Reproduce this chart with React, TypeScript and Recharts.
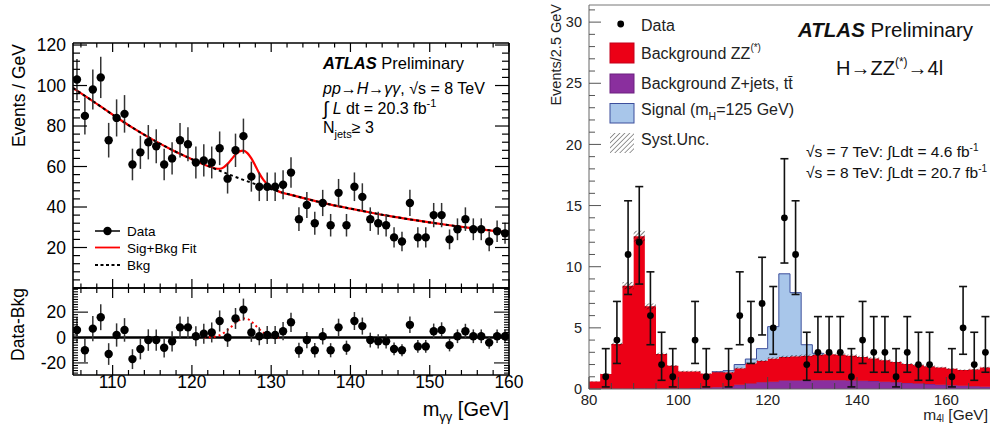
import React from "react";
import { ComposedChart, Line, Scatter, XAxis, YAxis, ErrorBar, ReferenceLine, Area } from "recharts";

const FONT = '"Liberation Sans", Arial, Helvetica, sans-serif';

// ===================== LEFT: H -> gamma gamma, Njets >= 3 =====================
const GG_RANGE = [105, 160];
const GG_BIN_WIDTH = 1;
// events per 1 GeV bin, bins 105-106 ... 159-160
const GG_DATA = [103, 85, 98, 104, 73, 84, 86, 61, 67, 72, 70, 61, 64, 73, 71, 62, 63, 62, 69, 54, 68, 75, 55, 50, 50, 50, 51, 57, 34, 41, 32, 42, 31, 47, 31, 50, 45, 34, 32, 31, 25, 23, 42, 25, 25, 36, 36, 24, 29, 34, 29, 29, 23, 28, 27];
// data - bkg (lower panel)
const GG_RESIDUAL = [6, -10, 7, 16, -13, 2, 6, -17, -9, -2, -2, -8, -3, 8, 8, 1, 3, 4, 13, 0, 15, 22, 4, 1, 2, 2, 5, 12, -10, -2, -10, 1, -10, 8, -8, 13, 9, -2, -3, -3, -9, -10, 10, -7, -7, 5, 6, -6, 1, 5, 1, 1, -4, 1, 1];
// background-only fit (dashed)
const GG_BKG_X = [105, 107.5, 110, 112.5, 115, 117.5, 120, 122.5, 125, 127.5, 130, 132.5, 135, 137.5, 140, 142.5, 145, 147.5, 150, 152.5, 155, 157.5, 160];
const GG_BKG_Y = [98.8, 92.3, 85.6, 79.2, 73.4, 68.2, 63.6, 59.5, 55.6, 52, 48.8, 46, 43.5, 41.2, 39.2, 37.3, 35.5, 33.9, 32.4, 31, 29.7, 28.5, 27.4];
// signal + background fit (red)
const GG_SB_X = [105, 107.5, 110, 112.5, 115, 117.5, 120, 121.5, 122.5, 123, 123.5, 124, 124.5, 125, 125.5, 126, 126.5, 127, 127.5, 128, 128.5, 129, 129.5, 130, 131, 132.5, 135, 137.5, 140, 142.5, 145, 147.5, 150, 152.5, 155, 157.5, 160];
const GG_SB_Y = [98.8, 92.3, 85.6, 79.2, 73.4, 68.2, 63.6, 61, 59.6, 59, 58.9, 59.6, 61.3, 63.6, 65.9, 67.5, 67.8, 66.6, 64, 60.4, 56.6, 53.5, 51.3, 49.7, 47.6, 46, 43.5, 41.2, 39.2, 37.3, 35.5, 33.9, 32.4, 31, 29.7, 28.5, 27.4];
// signal component in the lower panel (red dotted)
const GG_SIG_X = [121.5, 122, 122.5, 123, 123.5, 124, 124.5, 125, 125.5, 126, 126.5, 127, 127.5, 128, 128.5, 129, 129.5, 130, 130.5, 131];
const GG_SIG_Y = [0, 0.1, 0.3, 0.8, 1.8, 3.6, 6, 8.6, 11.4, 13.8, 15, 14.6, 12.6, 9.6, 6.5, 4, 2.1, 0.9, 0.3, 0];

// ===================== RIGHT: H -> ZZ(*) -> 4l =====================
const ZZ_RANGE = [80, 170];
const ZZ_BIN_WIDTH = 2.5;
const ZZ_DATA = [0, 1, 4, 11, 12, 6, 2, 1, 0, 4, 1, 0, 1, 6, 4, 7, 5, 14, 11, 2, 3, 3, 3, 1, 4, 3, 3, 1, 3, 2, 2, 0, 1, 5, 2, 3];
const ZZ_ZJETS = [0.03, 0.03, 0.03, 0.03, 0.04, 0.04, 0.04, 0.05, 0.05, 0.08, 0.1, 0.15, 0.2, 0.35, 0.45, 0.55, 0.6, 0.7, 0.7, 0.72, 0.72, 0.72, 0.72, 0.7, 0.68, 0.65, 0.6, 0.55, 0.5, 0.45, 0.4, 0.35, 0.3, 0.27, 0.22, 0.18];
const ZZ_ZZ = [0.59, 1.2, 3.65, 8.42, 12.46, 6.72, 2.82, 1.85, 1.39, 1.36, 1.15, 1.26, 1.16, 1.35, 1.65, 1.75, 1.9, 1.92, 1.98, 2.0, 2.08, 2.13, 2.08, 2.02, 1.94, 1.85, 1.75, 1.65, 1.55, 1.5, 1.45, 1.4, 1.35, 1.28, 1.38, 1.57];
const ZZ_SIGNAL = [0, 0, 0, 0, 0, 0, 0, 0, 0, 0, 0, 0, 0.14, 0.3, 0.35, 1.0, 2.6, 6.8, 5.2, 0.9, 0.12, 0, 0, 0, 0, 0, 0, 0, 0, 0, 0, 0, 0, 0, 0, 0];
const SYST_REL = 0.035;
// Poisson 68% interval bounds for observed counts n
const POIS_LO: Record<number, number> = { 1: 0.17, 2: 0.71, 3: 1.37, 4: 2.09, 5: 2.84, 6: 3.62, 7: 4.42, 11: 7.73, 12: 8.58, 14: 10.3 };
const POIS_HI: Record<number, number> = { 1: 3.3, 2: 4.64, 3: 5.92, 4: 7.16, 5: 8.38, 6: 9.58, 7: 10.77, 11: 15.39, 12: 16.55, 14: 18.83 };

// ---------- helpers ----------
const range = (a: number, b: number, s: number) => {
  const r: number[] = [];
  for (let v = a; v <= b + 1e-9; v += s) r.push(Math.round(v * 1000) / 1000);
  return r;
};
const isMult = (v: number, m: number) => Math.abs(v / m - Math.round(v / m)) < 1e-6;

// ---------- derived datasets ----------
const ggPoints = GG_DATA.map((n, i) => ({ x: GG_RANGE[0] + GG_BIN_WIDTH * (i + 0.5), y: n, e: Math.sqrt(n) }));
const ggResPoints = GG_RESIDUAL.map((r, i) => ({ x: GG_RANGE[0] + GG_BIN_WIDTH * (i + 0.5), y: r, e: Math.sqrt(GG_DATA[i]) }));
const ggBkg = GG_BKG_X.map((x, i) => ({ x, y: GG_BKG_Y[i] }));
const ggSB = GG_SB_X.map((x, i) => ({ x, y: GG_SB_Y[i] }));
const ggSig = GG_SIG_X.map((x, i) => ({ x, y: GG_SIG_Y[i] }));

const NB = ZZ_DATA.length;
const zzEdges = Array.from({ length: NB + 1 }, (_, k) => ZZ_RANGE[0] + k * ZZ_BIN_WIDTH);
const zzStack = zzEdges.map((x, k) => {
  const j = Math.min(k, NB - 1);
  const b = ZZ_ZJETS[j] + ZZ_ZZ[j];
  return { x, zj: ZZ_ZJETS[j], zz: ZZ_ZZ[j], sig: ZZ_SIGNAL[j], band: [b * (1 - SYST_REL), b * (1 + SYST_REL)] };
});
const sigOutline = zzEdges
  .map((x, k) => {
    const j = Math.min(k, NB - 1);
    return { x, k, y: ZZ_ZJETS[j] + ZZ_ZZ[j] + ZZ_SIGNAL[j] };
  })
  .filter((d) => d.k >= 11 && d.k <= 21);
const zzPoints = ZZ_DATA.map((n, k) => ({ n, x: ZZ_RANGE[0] + ZZ_BIN_WIDTH * (k + 0.5) }))
  .filter((d) => d.n > 0)
  .map((d) => ({ x: d.x, y: d.n, err: [d.n - POIS_LO[d.n], POIS_HI[d.n] - d.n] }));

// ---------- layout ----------
const LT = { w: 520, h: 300, l: 73, r: 509, t: 43, b: 288 };
const LB = { top: 280, w: 530, h: 144, l: 73, r: 509, t: 8, b: 95 };
const RC = { left: 540, w: 460, h: 424, l: 49, r: 451, t: 5, b: 389 };

const LFS = 17.5;

const ltY = (p: any) => {
  const y = p.y, v = p.payload.value;
  const maj = isMult(v, 20);
  const L = maj ? 14 : 7;
  return (
    <g>
      <line x1={LT.l} x2={LT.l + L} y1={y} y2={y} stroke="#000" strokeWidth={1.2} />
      <line x1={LT.r} x2={LT.r - L} y1={y} y2={y} stroke="#000" strokeWidth={1.2} />
      {maj && v > 0 ? (
        <text x={LT.l - 7} y={y} dy="0.36em" textAnchor="end" fontSize={LFS} fontFamily={FONT} fill="#000">{v}</text>
      ) : null}
    </g>
  );
};
const ltX = (p: any) => {
  const x = p.x, v = p.payload.value;
  const L = isMult(v, 10) ? 9 : 4.5;
  return (
    <g>
      <line x1={x} x2={x} y1={LT.b} y2={LT.b - L} stroke="#000" strokeWidth={1.2} />
      <line x1={x} x2={x} y1={LT.t} y2={LT.t + L} stroke="#000" strokeWidth={1.2} />
    </g>
  );
};
const lbY = (p: any) => {
  const y = p.y, v = p.payload.value;
  const maj = isMult(v, 20);
  const L = maj ? 15 : 5;
  return (
    <g>
      <line x1={LB.l} x2={LB.l + L} y1={y} y2={y} stroke="#000" strokeWidth={1.1} />
      <line x1={LB.r} x2={LB.r - L} y1={y} y2={y} stroke="#000" strokeWidth={1.1} />
      {maj ? (
        <text x={LB.l - 7} y={y} dy="0.36em" textAnchor="end" fontSize={LFS} fontFamily={FONT} fill="#000">{v}</text>
      ) : null}
    </g>
  );
};
const lbX = (p: any) => {
  const x = p.x, v = p.payload.value;
  const maj = isMult(v, 10);
  const L = maj ? 10 : 5;
  return (
    <g>
      <line x1={x} x2={x} y1={LB.b} y2={LB.b - L} stroke="#000" strokeWidth={1.2} />
      <line x1={x} x2={x} y1={LB.t} y2={LB.t + L} stroke="#000" strokeWidth={1.2} />
      {maj ? (
        <text x={x} y={LB.b + 13} textAnchor="middle" fontSize={LFS} fontFamily={FONT} fill="#000">{v}</text>
      ) : null}
    </g>
  );
};
const rY = (p: any) => {
  const y = p.y, v = p.payload.value;
  const maj = isMult(v, 5);
  const L = maj ? 12 : 6;
  return (
    <g>
      <line x1={RC.l} x2={RC.l + L} y1={y} y2={y} stroke="#555" strokeWidth={1} />
      {maj ? (
        <text x={RC.l - 7} y={y} dy="0.36em" textAnchor="end" fontSize={14.5} fontFamily={FONT} fill="#222">{v}</text>
      ) : null}
    </g>
  );
};
const rX = (p: any) => {
  const x = p.x, v = p.payload.value;
  const maj = isMult(v, 20);
  const L = maj ? 12 : 6;
  return (
    <g>
      <line x1={x} x2={x} y1={RC.b} y2={RC.b - L} stroke="#444" strokeWidth={1} />
      {maj ? (
        <text x={x} y={RC.b + 16} textAnchor="middle" fontSize={15} fontFamily={FONT} fill="#222">{v}</text>
      ) : null}
    </g>
  );
};

const dotL = (p: any) => <circle cx={p.cx} cy={p.cy} r={4.2} fill="#000" />;
const dotR = (p: any) => <circle cx={p.cx} cy={p.cy} r={3.4} fill="#000" />;

const RED = "#ec0016";
const PURPLE = "#8a2f9e";
const BLUE = "#a8c6ea";
const BLUE_EDGE = "#3d4f9c";

export default function App() {
  return (
    <div style={{ position: "fixed", left: 0, top: 0, width: 990, height: 424, overflow: "hidden", background: "#fff" }}>
      {/* ---------- left top ---------- */}
      <div style={{ position: "absolute", left: 0, top: 0 }}>
        <ComposedChart width={LT.w} height={LT.h} margin={{ top: LT.t, right: LT.w - LT.r, bottom: 0, left: 0 }}>
          <XAxis type="number" dataKey="x" domain={GG_RANGE} allowDataOverflow ticks={range(106, 160, 2)} interval={0}
            height={LT.h - LT.b} tickLine={false} tick={ltX} axisLine={{ stroke: "#000", strokeWidth: 1.6 }} />
          <YAxis type="number" domain={[0, 121]} allowDataOverflow ticks={range(0, 120, 4)} interval={0}
            width={LT.l} tickLine={false} tick={ltY} axisLine={{ stroke: "#000", strokeWidth: 1.6 }} />
          <ReferenceLine y={121} stroke="#000" strokeWidth={1.6} />
          <ReferenceLine x={160} stroke="#000" strokeWidth={1.6} />
          <Line data={ggSB} dataKey="y" type="monotone" stroke="#ff0000" strokeWidth={2.2} dot={false} activeDot={false} isAnimationActive={false} />
          <Line data={ggBkg} dataKey="y" type="monotone" stroke="#000" strokeWidth={2} strokeDasharray="3 3" dot={false} activeDot={false} isAnimationActive={false} />
          <Scatter data={ggPoints} dataKey="y" shape={dotL} isAnimationActive={false}>
            <ErrorBar dataKey="e" direction="y" width={0} stroke="#333" strokeWidth={1.5} />
          </Scatter>
        </ComposedChart>
      </div>

      {/* ---------- left bottom ---------- */}
      <div style={{ position: "absolute", left: 0, top: LB.top }}>
        <ComposedChart width={LB.w} height={LB.h} margin={{ top: LB.t, right: LB.w - LB.r, bottom: 0, left: 0 }}>
          <XAxis type="number" dataKey="x" domain={GG_RANGE} allowDataOverflow ticks={range(106, 160, 2)} interval={0}
            height={LB.h - LB.b} tickLine={false} tick={lbX} axisLine={{ stroke: "#000", strokeWidth: 1.6 }} />
          <YAxis type="number" domain={[-29.5, 39]} allowDataOverflow ticks={range(-28, 38, 2)} interval={0}
            width={LB.l} tickLine={false} tick={lbY} axisLine={{ stroke: "#000", strokeWidth: 1.6 }} />
          <ReferenceLine y={39} stroke="#000" strokeWidth={1.6} />
          <ReferenceLine x={160} stroke="#000" strokeWidth={1.6} />
          <ReferenceLine y={0} stroke="#000" strokeWidth={2.5} />
          <Line data={ggSig} dataKey="y" type="monotone" stroke="#ff0000" strokeWidth={2} strokeDasharray="2 3" dot={false} activeDot={false} isAnimationActive={false} />
          <Scatter data={ggResPoints} dataKey="y" shape={dotL} isAnimationActive={false}>
            <ErrorBar dataKey="e" direction="y" width={0} stroke="#333" strokeWidth={1.5} />
          </Scatter>
        </ComposedChart>
      </div>

      {/* ---------- right ---------- */}
      <div style={{ position: "absolute", left: RC.left, top: 0 }}>
        <ComposedChart width={RC.w} height={RC.h} data={zzStack} margin={{ top: RC.t, right: RC.w - RC.r, bottom: 0, left: 0 }}>
          <defs>
            <pattern id="hatchZZ" patternUnits="userSpaceOnUse" width="3" height="3" patternTransform="rotate(45)">
              <line x1="0" y1="0" x2="0" y2="3" stroke="#000" strokeWidth="1" />
            </pattern>
          </defs>
          <XAxis type="number" dataKey="x" domain={ZZ_RANGE} allowDataOverflow ticks={range(80, 170, 5)} interval={0}
            height={RC.h - RC.b} tickLine={false} tick={rX} axisLine={{ stroke: "#666", strokeWidth: 1 }} />
          <YAxis type="number" domain={[0, 31.4]} allowDataOverflow ticks={range(0, 31, 1)} interval={0}
            width={RC.l} tickLine={false} tick={rY} axisLine={{ stroke: "#666", strokeWidth: 1 }} />
          <ReferenceLine y={31.4} stroke="#777" strokeWidth={1} />
          <Area dataKey="zj" stackId="s" type="stepAfter" fill={PURPLE} fillOpacity={1} stroke="#6d2080" strokeWidth={0.8} isAnimationActive={false} activeDot={false} />
          <Area dataKey="zz" stackId="s" type="stepAfter" fill={RED} fillOpacity={1} stroke="none" isAnimationActive={false} activeDot={false} />
          <Area dataKey="sig" stackId="s" type="stepAfter" fill={BLUE} fillOpacity={1} stroke="none" isAnimationActive={false} activeDot={false} />
          <Area dataKey="band" type="stepAfter" fill="url(#hatchZZ)" fillOpacity={1} stroke="none" isAnimationActive={false} activeDot={false} />
          <Line data={sigOutline} dataKey="y" type="stepAfter" stroke={BLUE_EDGE} strokeWidth={1} dot={false} activeDot={false} isAnimationActive={false} />
          <Scatter data={zzPoints} dataKey="y" shape={dotR} isAnimationActive={false}>
            <ErrorBar dataKey="err" direction="y" width={4} stroke="#111" strokeWidth={1.6} />
          </Scatter>
        </ComposedChart>
      </div>

      {/* ---------- text overlays and legends ---------- */}
      <svg width={990} height={424} style={{ position: "absolute", left: 0, top: 0, pointerEvents: "none" }} fontFamily={FONT}>
        <defs>
          <pattern id="hatchLeg" patternUnits="userSpaceOnUse" width="3.5" height="3.5" patternTransform="rotate(45)">
            <line x1="0" y1="0" x2="0" y2="3.5" stroke="#333" strokeWidth="1" />
          </pattern>
        </defs>
        {/* left axis titles */}
        <text transform="translate(25,44) rotate(-90)" textAnchor="end" fontSize={17.5} fill="#000">Events / GeV</text>
        <text transform="translate(23.5,288) rotate(-90)" textAnchor="end" fontSize={17.5} fill="#000">Data-Bkg</text>
        <text x={509} y={416} textAnchor="end" fontSize={20} fill="#000">
          m<tspan fontSize={13} dy={5}>γγ</tspan><tspan dy={-5}> [GeV]</tspan>
        </text>
        {/* left annotations */}
        <text x={323} y={69} fontSize={16.5} fill="#000">
          <tspan fontWeight="bold" fontStyle="italic">ATLAS</tspan> Preliminary
        </text>
        <text x={323} y={94} fontSize={16} fill="#000">
          <tspan fontStyle="italic">pp</tspan>→<tspan fontStyle="italic">H</tspan>→<tspan fontStyle="italic">γγ</tspan>, √s = 8 TeV
        </text>
        <text x={323} y={114} fontSize={16} fill="#000">
          <tspan fontSize={19} dy={1}>∫</tspan><tspan dy={-1}> </tspan><tspan fontStyle="italic">L</tspan> dt = 20.3 fb<tspan fontSize={11} dy={-7}>-1</tspan>
        </text>
        <text x={323} y={133} fontSize={16} fill="#000">
          N<tspan fontSize={11} dy={5}>jets</tspan><tspan dy={-5}>≥ 3</tspan>
        </text>
        {/* left legend */}
        <line x1={95} x2={120} y1={231} y2={231} stroke="#000" strokeWidth={1.5} />
        <circle cx={107.5} cy={231} r={4.2} fill="#000" />
        <text x={127} y={236} fontSize={13.5} fill="#000">Data</text>
        <line x1={95} x2={120} y1={247.5} y2={247.5} stroke="#ff0000" strokeWidth={1.8} />
        <text x={127} y={252.5} fontSize={13.5} fill="#000">Sig+Bkg Fit</text>
        <line x1={95} x2={120} y1={265} y2={265} stroke="#000" strokeWidth={1.8} strokeDasharray="3 2.5" />
        <text x={127} y={270} fontSize={13.5} fill="#000">Bkg</text>

        {/* right axis titles */}
        <text transform="translate(561,4) rotate(-90)" textAnchor="end" fontSize={14.5} fill="#222">Events/2.5 GeV</text>
        <text x={988} y={419.5} textAnchor="end" fontSize={15.5} fill="#222">
          m<tspan fontSize={10} dy={2.5}>4l</tspan><tspan dy={-2.5}> [GeV]</tspan>
        </text>
        {/* right legend */}
        <circle cx={620.7} cy={24} r={3.4} fill="#000" />
        <text x={641} y={30.5} fontSize={16} fill="#222">Data</text>
        <rect x={610} y={43} width={24} height={20} fill={RED} stroke="#c4001a" strokeWidth={1} />
        <text x={641} y={58.5} fontSize={16} fill="#222">
          Background ZZ<tspan fontSize={10} dy={-8}>(*)</tspan>
        </text>
        <rect x={610} y={74} width={24} height={19} fill={PURPLE} stroke="#6d2080" strokeWidth={1} />
        <text x={641} y={88.5} fontSize={16} fill="#222">Background Z+jets, tt̄</text>
        <rect x={610} y={103.5} width={24} height={19.5} fill={BLUE} stroke={BLUE_EDGE} strokeWidth={1} />
        <text x={641} y={115} fontSize={16} fill="#222">
          Signal (m<tspan fontSize={10.5} dy={5}>H</tspan><tspan dy={-5}>=125 GeV)</tspan>
        </text>
        <rect x={610} y={133} width={24} height={20} fill="url(#hatchLeg)" />
        <text x={641} y={145} fontSize={16} fill="#222">Syst.Unc.</text>
        {/* right annotations */}
        <text x={798} y={36.5} fontSize={20.5} fill="#111">
          <tspan fontWeight="bold" fontStyle="italic">ATLAS</tspan> Preliminary
        </text>
        <text x={836} y={75} fontSize={20} fill="#111">
          H→ZZ<tspan fontSize={12} dy={-9}>(*)</tspan><tspan dy={9}>→4l</tspan>
        </text>
        <text x={806} y={157} fontSize={15.5} fill="#111">
          √s = 7 TeV: ∫Ldt = 4.6 fb<tspan fontSize={10} dy={-6}>-1</tspan>
        </text>
        <text x={806} y={178} fontSize={15.5} fill="#111">
          √s = 8 TeV: ∫Ldt = 20.7 fb<tspan fontSize={10} dy={-6}>-1</tspan>
        </text>
      </svg>
    </div>
  );
}
